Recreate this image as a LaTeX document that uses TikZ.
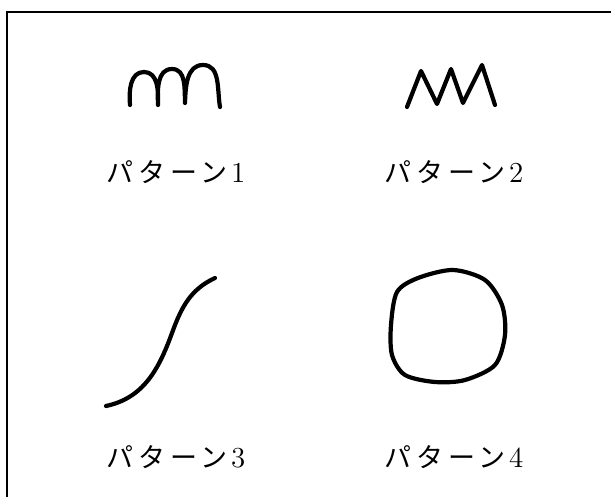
\documentclass[tikz,border=0pt]{standalone}
\usepackage{fontspec}
\newfontfamily\jpfont[LetterSpace=18]{Noto Sans CJK JP}
\tikzset{
  stroke/.style={line width=2.1pt, line cap=round, line join=round},
  frame/.style={line width=0.8pt},
  caption/.style={inner sep=0pt, font=\fontsize{14.5}{16}\selectfont}
}
\newcommand{\Pat}[1]{{\jpfont\fontsize{13.5}{16}\selectfont パターン}\hspace{1.5pt}#1}

\begin{document}
\begin{tikzpicture}[x=0.5pt, y=0.5pt]
  \useasboundingbox (0,0) rectangle (611,-497);

  % frame (cut at right and bottom)
  \draw[frame] (7,-497) -- (7,-12) -- (611,-12);

  % pattern 1: arches
  \draw[stroke] (130,-105) to[out=95,in=180] (144,-72) to[out=0,in=88] (158,-105)
    to[out=92,in=180] (172,-69) to[out=0,in=92] (185,-103)
    to[out=88,in=180] (203,-65) to[out=0,in=100] (220,-107);

  % pattern 2: zigzag
  \draw[stroke] (407,-107) -- (421,-71) -- (437,-104) -- (451,-69)
    -- (463,-103) -- (482,-65) -- (495,-105);

  % pattern 3: s-curve
  \draw[stroke] (106,-406) to[out=12,in=250] (172,-333) to[out=70,in=205] (215,-278);

  % pattern 4: closed blob
  \draw[stroke] plot[smooth cycle] coordinates {(391,-325) (397,-292) (418,-278)
    (453,-270) (485,-280) (502,-305) (505,-335) (495,-365) (465,-380) (435,-382)
    (405,-375) (392,-355)};

  % captions
  \node[caption] (label1) at (176,-172) {\Pat{1}};
  \node[caption] (label2) at (454,-172) {\Pat{2}};
  \node[caption] (label3) at (176,-457) {\Pat{3}};
  \node[caption] (label4) at (454,-457) {\Pat{4}};
\end{tikzpicture}
\end{document}
